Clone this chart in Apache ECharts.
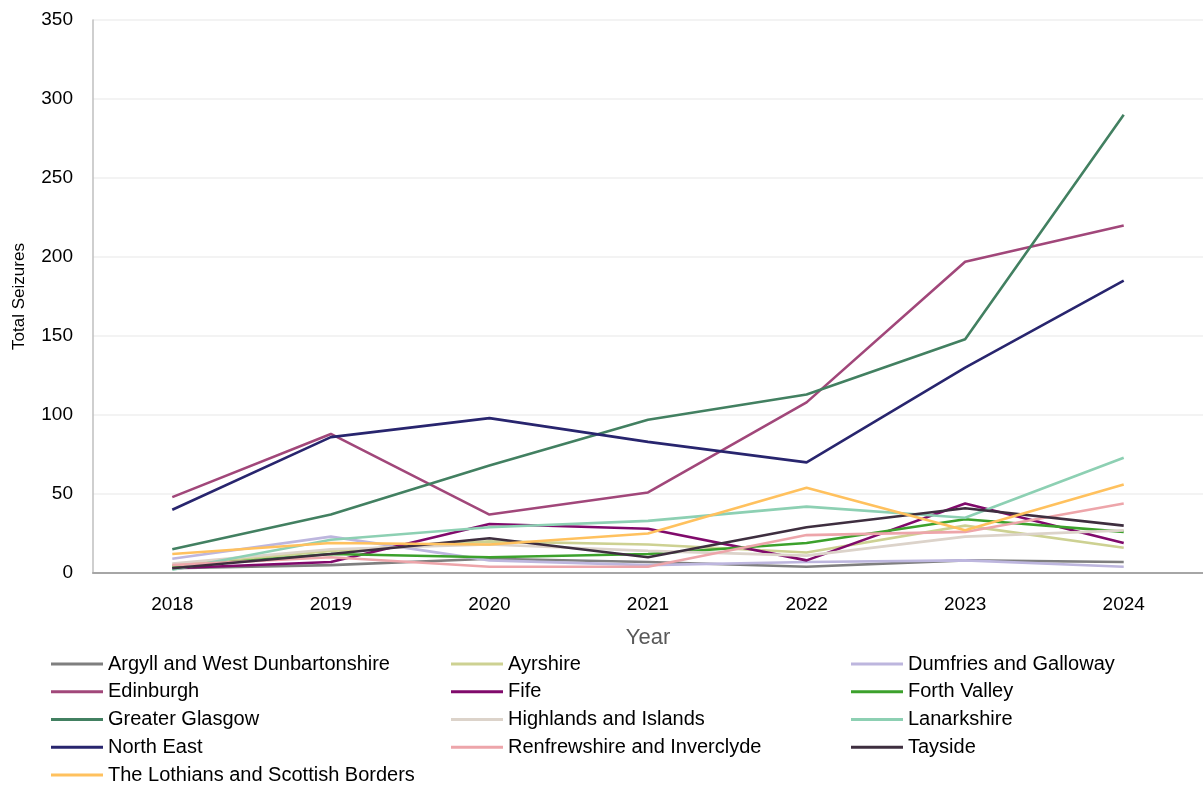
<!DOCTYPE html>
<html><head><meta charset="utf-8">
<script src="https://cdn.jsdelivr.net/npm/echarts@6/dist/echarts.min.js"></script>
<style>html,body{margin:0;padding:0;background:#fff}#c{width:1203px;height:785px}</style>
</head><body><div id="c"></div>
<script>
const years = ['2018','2019','2020','2021','2022','2023','2024'];
const yTicks = [0,50,100,150,200,250,300,350];
const argyll = [3, 5, 9, 7, 4, 8, 7];
const ayrshire = [5, 14, 20, 18, 13, 30, 16];
const dumfries = [9, 23, 8, 5, 7, 8, 4];
const edinburgh = [48, 88, 37, 51, 108, 197, 220];
const fife = [3, 7, 31, 28, 8, 44, 19];
const forthValley = [4, 12, 10, 12, 19, 34, 26];
const glasgow = [15, 37, 68, 97, 113, 148, 290];
const highlands = [6, 15, 18, 14, 11, 23, 27];
const lanarkshire = [2, 21, 29, 33, 42, 35, 73];
const northEast = [40, 86, 98, 83, 70, 130, 185];
const renfrewshire = [5, 10, 4, 4, 24, 26, 44];
const tayside = [3, 12, 22, 10, 29, 41, 30];
const lothians = [12, 19, 18, 25, 54, 27, 56];

const seriesDefs = [
  ['Argyll and West Dunbartonshire', argyll, '#7f7f7f'],
  ['Ayrshire', ayrshire, '#cdd192'],
  ['Dumfries and Galloway', dumfries, '#bdb6de'],
  ['Edinburgh', edinburgh, '#a1477a'],
  ['Fife', fife, '#800a6b'],
  ['Forth Valley', forthValley, '#3ca12c'],
  ['Greater Glasgow', glasgow, '#428061'],
  ['Highlands and Islands', highlands, '#dcd3ca'],
  ['Lanarkshire', lanarkshire, '#8dd0b3'],
  ['North East', northEast, '#28256e'],
  ['Renfrewshire and Inverclyde', renfrewshire, '#eda5aa'],
  ['Tayside', tayside, '#3e2e3f'],
  ['The Lothians and Scottish Borders', lothians, '#ffc15e']
];
const FONT = 'Liberation Sans, Arial, sans-serif';
const legendBase = {
  orient: 'vertical', top: 654, padding: 0, icon: 'rect',
  itemWidth: 52, itemHeight: 3, itemGap: 7.75,
  textStyle: {fontFamily: FONT, fontSize: 20, color: '#000'}
};
const chart = echarts.init(document.getElementById('c'));
chart.setOption({
  animation: false,
  grid: {left: 93, right: 0, top: 20, bottom: 212, outerBoundsMode: 'none'},
  legend: [
    Object.assign({}, legendBase, {left: 51, data: [seriesDefs[0][0], seriesDefs[3][0], seriesDefs[6][0], seriesDefs[9][0]]}),
    Object.assign({}, legendBase, {left: 51, top: 765, data: [seriesDefs[12][0]]}),
    Object.assign({}, legendBase, {left: 451, data: [seriesDefs[1][0], seriesDefs[4][0], seriesDefs[7][0], seriesDefs[10][0]]}),
    Object.assign({}, legendBase, {left: 851, data: [seriesDefs[2][0], seriesDefs[5][0], seriesDefs[8][0], seriesDefs[11][0]]})
  ],
  xAxis: {
    type: 'category', data: years, boundaryGap: true,
    name: 'Year', nameLocation: 'middle', nameGap: 54,
    nameTextStyle: {fontFamily: FONT, fontSize: 22, color: '#595959'},
    axisTick: {show: false},
    axisLine: {lineStyle: {color: '#a6a6a6', width: 2}},
    axisLabel: {fontFamily: FONT, fontSize: 19, color: '#000', margin: 22}
  },
  yAxis: {
    type: 'value', min: yTicks[0], max: yTicks[yTicks.length-1], interval: 50,
    name: 'Total Seizures', nameLocation: 'middle', nameGap: 65,
    nameTextStyle: {fontFamily: FONT, fontSize: 17, color: '#000'},
    axisLine: {show: true, lineStyle: {color: '#bfbfbf', width: 1.5}},
    axisTick: {show: false},
    splitLine: {lineStyle: {color: '#efefef', width: 1.5}},
    axisLabel: {fontFamily: FONT, fontSize: 19, color: '#000', margin: 20}
  },
  series: seriesDefs.map(([name, data, color]) => ({
    name, type: 'line', data, symbol: 'none', color,
    lineStyle: {width: 2.6, color}
  }))
});
</script></body></html>
